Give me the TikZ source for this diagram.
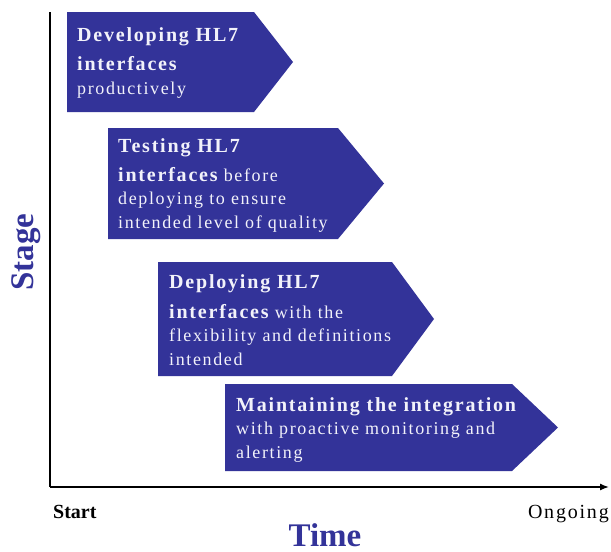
\documentclass[tikz,border=0pt]{standalone}
\usepackage{fontspec}
\setmainfont{Liberation Serif}
\newfontfamily\boxfont[LetterSpace=9]{Liberation Serif}
\usetikzlibrary{arrows.meta}
\definecolor{stageblue}{HTML}{333399}
\definecolor{stagewhite}{HTML}{F2F2FA}
\tikzset{
        stagearrow/.style = {fill=stageblue, draw=none},
        stagetext/.style = {anchor=base west, inner sep=0pt, align=left,
            text=stagewhite, font=\boxfont\fontsize{18}{23.5}\selectfont},
        axis/.style = {draw, line width=1.4pt},
        axislabel/.style = {text=stageblue, inner sep=0pt,
            font=\bfseries\fontsize{33}{36}\selectfont},
        endlabel/.style = {anchor=base, inner sep=0pt},
    }
\newcommand{\hl}[1]{{\fontsize{20}{23.5}\selectfont\bfseries #1}}

\begin{document}
\begin{tikzpicture}[x=1pt,y=-1pt]
    \useasboundingbox (0,0) rectangle (611,552);

    % axes
    \coordinate (top) at (50,12);
    \coordinate (origin) at (50,487);
    \coordinate (right) at (609,487);
    \draw[axis] (top) -- (origin);
    \draw[axis, -{Latex[length=9pt,width=7pt]}] (origin) -- (right);

    % stage arrows
    \fill[stagearrow] (67,12) -- (254,12) -- (293,62) -- (254,112) -- (67,112) -- cycle;
    \fill[stagearrow] (108,128) -- (338,128) -- (384,183.5) -- (338,239) -- (108,239) -- cycle;
    \fill[stagearrow] (158,262) -- (392,262) -- (434,319) -- (392,376) -- (158,376) -- cycle;
    \fill[stagearrow] (225,384) -- (512,384) -- (558,427.5) -- (512,471) -- (225,471) -- cycle;

    % texts sit on the baseline of their last line
    \node[stagetext] (develop) at (77,94)
        {\hl{Developing HL7}\\[6pt]\hl{interfaces}\\productively};
    \node[stagetext] (testing) at (118,228)
        {\hl{Testing HL7}\\[5pt]\hl{interfaces} before\\deploying to ensure\\intended level of quality};
    \node[stagetext] (deploy) at (169,365)
        {\hl{Deploying HL7}\\[6pt]\hl{interfaces} with the\\flexibility and definitions\\intended};
    \node[stagetext] (maintain) at (236,458)
        {\hl{Maintaining the integration}\\with proactive monitoring and\\alerting};

    % axis labels
    \node[endlabel, anchor=base west, font=\bfseries\fontsize{20}{24}\selectfont] (start) at (53,518) {Start};
    \node[endlabel, anchor=base east, font=\boxfont\fontsize{20}{24}\selectfont] (ongoing) at (609,518) {Ongoing};
    \node[axislabel, anchor=base] (time) at (325,546) {Time};
    \node[axislabel, anchor=base, rotate=90] (stage) at (34,252) {Stage};
\end{tikzpicture}
\end{document}
